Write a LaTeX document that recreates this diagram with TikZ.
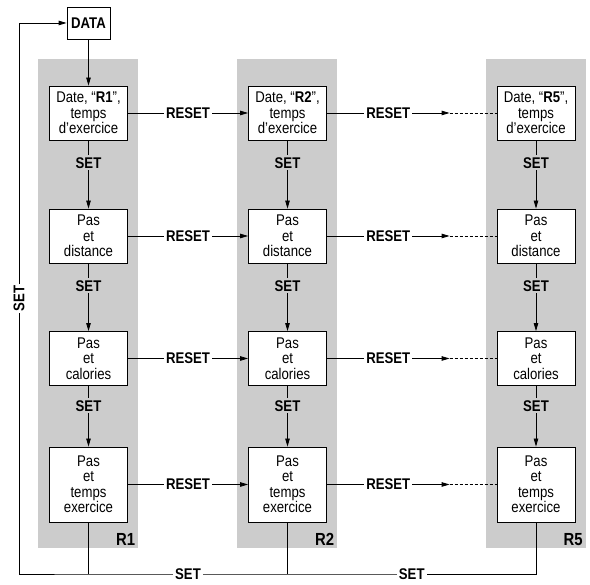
\documentclass[tikz,border=0pt]{standalone}
\usepackage{fontspec}
\setmainfont{Liberation Sans}[FakeStretch=0.85]
\usetikzlibrary{arrows.meta}

\begin{document}
\begin{tikzpicture}[
    x=1pt, y=1pt,
    line width=0.8pt,
    every node/.style={font=\fontsize{15.5}{15.5}\selectfont},
    menu/.style={draw, fill=white, align=center, minimum width=78pt, minimum height=54pt, inner sep=2pt},
    tall/.style={minimum height=75pt},
    key/.style={fill=white, inner sep=2pt, font=\fontsize{15.5}{15.5}\selectfont\bfseries},
    keyongray/.style={key, fill=black!20},
    panel/.style={fill=black!20},
    tag/.style={anchor=south east, inner sep=0pt, font=\fontsize{17.5}{17.5}\selectfont\bfseries},
    arrow/.style={-{Triangle[length=8pt,width=4.5pt]}}
]
    \useasboundingbox (0,0) rectangle (590,585);

    % Start node
    \node[draw, minimum width=43pt, minimum height=32pt, inner sep=2pt,
          font=\fontsize{15.5}{15.5}\selectfont\bfseries] (data) at (88.5,562) {DATA};

    % One column per record: panel, four screens, SET arrows
    \foreach \col/\x/\n in {a/88.5/1, b/287.5/2, c/536/5} {
        \fill[panel] (\x-50.5,37) rectangle (\x+49.5,526);
        \node[tag] (r\n) at (\x+47,39) {R\n};
        \node[menu] (\col1) at (\x,472) {Date, “\textbf{R\n}”,\\temps\\d'exercice};
        \node[menu] (\col2) at (\x,349) {Pas\\et\\distance};
        \node[menu] (\col3) at (\x,226.5) {Pas\\et\\calories};
        \node[menu, tall] (\col4) at (\x,100.5) {Pas\\et\\temps\\exercice};
        \draw[arrow] (\col1) -- node[keyongray, pos=0.33] (s\col1) {SET} (\col2);
        \draw[arrow] (\col2) -- node[keyongray, pos=0.33] (s\col2) {SET} (\col3);
        \draw[arrow] (\col3) -- node[keyongray, pos=0.33] (s\col3) {SET} (\col4);
    }

    \draw[arrow] (data) -- (a1);

    % RESET goes to the next record
    \foreach \r in {1,...,4} {
        \draw[arrow] (a\r.east) -- node[key] (ra\r) {RESET} (b\r.west);
        \coordinate (g\r) at ([xshift=-47pt]c\r.west);
        \draw[arrow] (b\r.east) -- node[key] (rb\r) {RESET} (g\r);
        \draw[dash pattern=on 3pt off 2pt] (g\r) -- (c\r.west);
    }

    % SET from the last screens back to DATA
    \coordinate (loop) at (19,11);
    \draw (a4.south) -- (a4.south |- loop);
    \draw (b4.south) -- (b4.south |- loop);
    \draw[arrow] (c4.south) -- (c4.south |- loop)
        -- node[key] (set2) {SET} (b4.south |- loop)
        -- node[key] (set1) {SET} (a4.south |- loop)
        -- (loop)
        -- node[key, rotate=90] (set0) {SET} (loop |- data.west)
        -- (data.west);
\end{tikzpicture}
\end{document}
